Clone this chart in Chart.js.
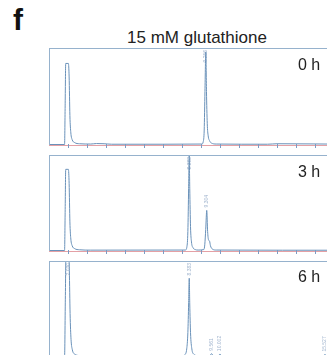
<!DOCTYPE html>
<html lang="en">
<head>
    <meta charset="UTF-8">
    <title>15 mM glutathione</title>
    <script src="https://cdn.jsdelivr.net/npm/chart.js"></script>
    <style>
        html, body { margin: 0; padding: 0; background: #fff; }
        #wrap { position: relative; width: 327px; height: 355px; overflow: hidden; font-family: "Liberation Sans", Arial, sans-serif; }
        canvas { position: absolute; left: 48px; }
        .panel-letter { position: absolute; left: 13px; top: 3px; font-size: 30px; font-weight: bold; color: #111; }
        .title { position: absolute; left: 197px; top: 28px; transform: translateX(-50%); font-size: 17px; color: #222; white-space: nowrap; }
        .time { position: absolute; left: 298px; font-size: 16px; color: #222; white-space: nowrap; }
    </style>
</head>
<body>
<div id="wrap">
    <div class="panel-letter">f</div>
    <div class="title">15 mM glutathione</div>
    <canvas id="c0" width="300" height="103" style="top:47px"></canvas>
    <canvas id="c3" width="300" height="102" style="top:154px"></canvas>
    <canvas id="c6" width="300" height="102" style="top:260px"></canvas>
    <div class="time" style="top:56px">0 h</div>
    <div class="time" style="top:163px">3 h</div>
    <div class="time" style="top:268px">6 h</div>
</div>
<script>
    // retention time (min) and detector signal (% of full scale) for each injection
    const time0h = [1.0, 1.82, 1.85, 1.88, 1.95, 2.02, 2.06, 2.10, 2.15, 2.22, 2.35, 2.6, 3.2, 3.5, 3.9, 4.3, 7.0, 9.05, 9.12, 9.17, 9.21, 9.256, 9.29, 9.33, 9.38, 9.45, 9.55, 9.8, 12.5, 13.0, 16.8];
    const signal0h = [0, 0, 40, 84, 84, 84, 70, 30, 12, 5, 2, 0.8, 0.5, 1, 0.8, 0.3, 0.3, 0.5, 3, 15, 55, 96, 55, 22, 9, 4, 1.5, 0.5, 0.3, 0.8, 0.3];

    const time3h = [1.0, 1.82, 1.85, 1.88, 1.95, 2.02, 2.06, 2.10, 2.15, 2.22, 2.35, 2.6, 3.2, 8.18, 8.26, 8.31, 8.35, 8.382, 8.41, 8.45, 8.5, 8.58, 8.7, 8.85, 9.15, 9.2, 9.25, 9.304, 9.35, 9.4, 9.45, 9.5, 9.6, 9.8, 16.8];
    const signal3h = [0, 0, 40, 85, 85, 85, 70, 30, 12, 5, 2, 0.8, 0.4, 0.5, 4, 20, 65, 100, 65, 25, 9, 3, 1, 0.5, 1, 6, 22, 42, 20, 11, 10, 5, 1.5, 0.5, 0.3];

    const time6h = [1.0, 1.82, 1.86, 1.9, 2.030, 2.07, 2.11, 2.16, 2.23, 2.35, 2.6, 3.2, 8.0, 8.15, 8.25, 8.31, 8.35, 8.383, 8.41, 8.45, 8.52, 8.62, 8.8, 9.45, 9.561, 9.65, 9.9, 10.002, 10.1, 15.4, 15.527, 15.65, 16.8];
    const signal6h = [0, 0, 60, 115, 115, 90, 45, 18, 7, 2.5, 1, 0.5, 0.5, 2, 8, 25, 55, 82, 55, 25, 8, 2.5, 1, 0.5, 3, 0.8, 0.6, 2.5, 0.5, 0.3, 2, 0.3, 0.3];

    // integrated peaks that carry a retention-time label
    const peaks0h = [9.256];
    const peaks3h = [8.382, 9.304];
    const peaks6h = [2.030, 8.383, 9.561, 10.002, 15.527];

    const traceColor = 'rgb(105, 145, 185)';
    const frameColor = 'rgb(150, 178, 205)';
    const baseColor = 'rgb(228, 160, 165)';

    // frame, baseline with minute ticks, and vertical peak labels
    const chromPlot = {
        id: 'chromPlot',
        afterDraw(chart, args, opts) {
            const { ctx, chartArea: a, scales: { x, y } } = chart;
            ctx.save();
            ctx.lineWidth = 1;
            ctx.strokeStyle = frameColor;
            ctx.strokeRect(a.left + 0.5, a.top + 0.5, a.right - a.left, a.bottom - a.top);
            ctx.strokeStyle = baseColor;
            ctx.beginPath();
            ctx.moveTo(a.left, a.bottom + 0.5);
            ctx.lineTo(a.right, a.bottom + 0.5);
            ctx.stroke();
            ctx.strokeStyle = 'rgb(125, 155, 195)';
            ctx.beginPath();
            for (let t = Math.ceil(x.min + 0.5); t < x.max; t++) {
                const px = Math.round(x.getPixelForValue(t)) + 0.5;
                ctx.moveTo(px, a.bottom - 1);
                ctx.lineTo(px, a.bottom + 3);
            }
            ctx.stroke();

            const pts = chart.data.datasets[0].data;
            ctx.font = '5px "Liberation Sans", Arial, sans-serif';
            ctx.fillStyle = 'rgba(120, 148, 185, 0.7)';
            ctx.textBaseline = 'middle';
            opts.peaks.forEach(t => {
                const p = pts.find(d => d.x === t);
                const label = t.toFixed(3);
                const len = ctx.measureText(label).width;
                const px = x.getPixelForValue(t);
                const py = y.getPixelForValue(Math.min(p.y, y.max));
                const bottom = Math.max(a.top + 2 + len, py - 3);
                ctx.save();
                ctx.translate(px, bottom);
                ctx.rotate(-Math.PI / 2);
                ctx.fillText(label, 0, 0);
                ctx.restore();
            });
            ctx.restore();
        }
    };

    function drawRun(id, times, signal, peaks) {
        new Chart(document.getElementById(id), {
            type: 'line',
            data: {
                datasets: [{
                    data: times.map((t, i) => ({ x: t, y: signal[i] })),
                    borderColor: traceColor,
                    borderWidth: 1,
                    pointRadius: 0,
                    cubicInterpolationMode: 'monotone',
                    fill: false
                }]
            },
            options: {
                responsive: false,
                animation: false,
                devicePixelRatio: 1,
                layout: { padding: { left: 1, top: 1, right: 0, bottom: 5 } },
                plugins: { legend: { display: false }, tooltip: { enabled: false }, chromPlot: { peaks } },
                scales: {
                    x: { type: 'linear', min: 1, max: 16.74, display: false },
                    y: { min: -0.5, max: 100, display: false }
                }
            },
            plugins: [chromPlot]
        });
    }

    drawRun('c0', time0h, signal0h, peaks0h);
    drawRun('c3', time3h, signal3h, peaks3h);
    drawRun('c6', time6h, signal6h, peaks6h);
</script>
</body>
</html>
